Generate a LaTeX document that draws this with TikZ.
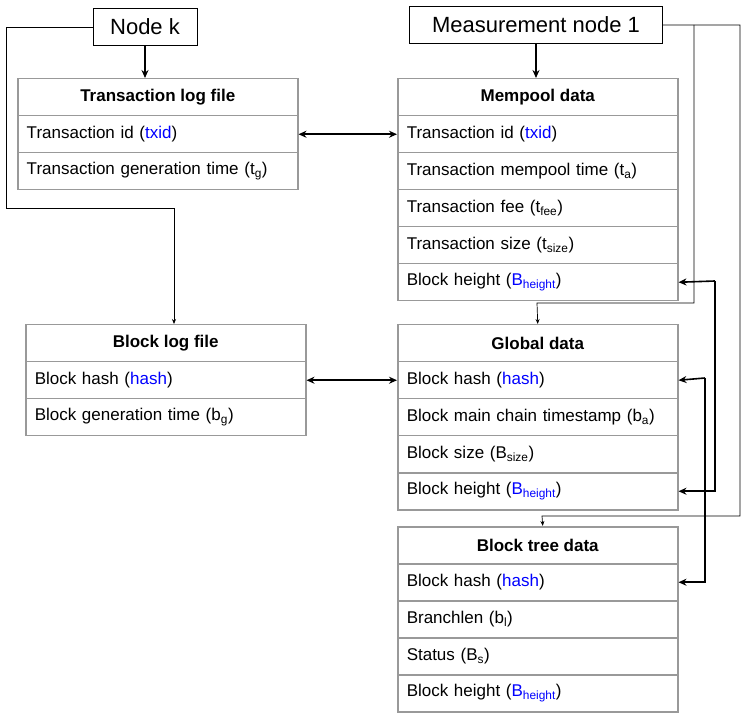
\documentclass[tikz,border=0pt]{standalone}
\usepackage{fontspec}
\setmainfont{Liberation Sans}
\usetikzlibrary{arrows.meta}
\tikzstyle{hdr} = [rectangle, minimum width=280pt, minimum height=37pt, text centered, draw=black!40, line width=1.5pt, font=\fontsize{17}{19}\selectfont\bfseries, anchor=north west]
\tikzstyle{row} = [rectangle, minimum width=280pt, minimum height=37pt, text width=262pt, align=left, draw=black!40, line width=1.5pt, font=\fontsize{17}{19}\selectfont, anchor=north west]
\tikzstyle{src} = [rectangle, minimum height=37pt, draw=black, fill=white, font=\fontsize{22}{24}\selectfont]
\tikzstyle{arrow} = [line width=1.6pt,-{Stealth[length=8pt,width=7pt]}]
\tikzstyle{dbl} = [line width=1.6pt,{Stealth[length=8pt,width=7pt]}-{Stealth[length=8pt,width=7pt]}]
\tikzstyle{thin} = [line width=0.7pt,-{Stealth[length=5pt,width=4pt]}]
\newcommand{\bl}[1]{\textcolor{blue}{#1}}
\begin{document}
\begin{tikzpicture}[x=1pt,y=-1pt]
\useasboundingbox (0,0) rectangle (748,714);

\node (nodek) [src, minimum width=104pt] at (145,27) {Node k};
\node (meas) [src, minimum width=253pt] at (536,25) {Measurement node 1};

% Transaction log file
\node (tlh) [hdr] at (17,78) {Transaction log file};
\node (tl1) [row] at (17,115) {Transaction id (\bl{txid})};
\node (tl2) [row] at (17,152) {Transaction generation time (t\textsubscript{g})};

% Mempool data
\node (mph) [hdr] at (397,78) {Mempool data};
\node (mp1) [row] at (397,115) {Transaction id (\bl{txid})};
\node (mp2) [row] at (397,152) {Transaction mempool time (t\textsubscript{a})};
\node (mp3) [row] at (397,189) {Transaction fee (t\textsubscript{fee})};
\node (mp4) [row] at (397,226) {Transaction size (t\textsubscript{size})};
\node (mp5) [row] at (397,263) {Block height (\bl{B\textsubscript{height}})};

% Block log file
\node (blh) [hdr] at (25,324) {Block log file};
\node (bl1) [row] at (25,361) {Block hash (\bl{hash})};
\node (bl2) [row] at (25,398) {Block generation time (b\textsubscript{g})};

% Global data
\node (glh) [hdr] at (397,324) {Global data};
\node (gl1) [row] at (397,361) {Block hash (\bl{hash})};
\node (gl2) [row] at (397,398) {Block main chain timestamp (b\textsubscript{a})};
\node (gl3) [row] at (397,435) {Block size (B\textsubscript{size})};
\node (gl4) [row] at (397,472) {Block height (\bl{B\textsubscript{height}})};

% Block tree data
\node (bth) [hdr] at (397,526) {Block tree data};
\node (bt1) [row] at (397,563) {Block hash (\bl{hash})};
\node (bt2) [row] at (397,600) {Branchlen (b\textsubscript{l})};
\node (bt3) [row] at (397,637) {Status (B\textsubscript{s})};
\node (bt4) [row] at (397,674) {Block height (\bl{B\textsubscript{height}})};

% Arrows
\draw [arrow] (nodek.south) -- (tlh.north -| nodek.south);
\draw [arrow] (meas.south) -- (mph.north -| meas.south);
\draw [thin] (nodek.west) -| (6,208) -| (174,324);
\draw [thin] (meas.east) -- (740,25) |- (542,516) -- ([xshift=5pt]bth.north);
\draw [thin] (694,25) |- (537,303) -- ([xshift=0pt]glh.north);
\draw [dbl] (tl1.east) -- (mp1.west);
\draw [dbl] (bl1.east) -- (gl1.west);
\draw [arrow] (715,281) -- (mp5.east);
\draw [arrow] (715,281) |- (gl4.east);
\draw [arrow] (705,378) -- (gl1.east);
\draw [arrow] (705,378) |- (bt1.east);

\end{tikzpicture}
\end{document}
